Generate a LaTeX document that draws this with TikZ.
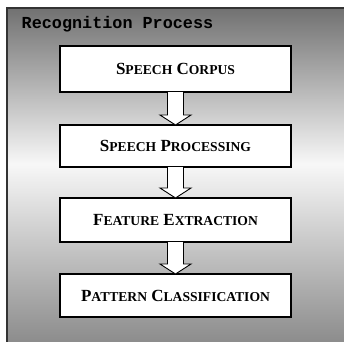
\documentclass[tikz,border=0pt]{standalone}
\usepackage{fontspec}
\setmainfont{Liberation Serif}
\newfontfamily\monob{Liberation Mono}
\usetikzlibrary{calc}

% hand-made small capitals: large initial, smaller remainder
\newcommand\scword[2]{{\fontsize{17}{20}\selectfont #1}{\fontsize{13.6}{16}\selectfont #2}}

\tikzset{
  x=1pt, y=1pt,
  stagebox/.style={draw=black, line width=1.3pt, fill=white,
    minimum width=231pt, minimum height=44pt, inner sep=0pt, outer sep=0pt,
    font=\bfseries\fontsize{17}{20}\selectfont},
  blockarrow/.style={draw=black, line width=0.9pt, fill=white, line join=miter},
}

\begin{document}
\begin{tikzpicture}
  \useasboundingbox (0,0) rectangle (344,341);
  \clip (0,0) rectangle (344,341);

  % panel background: dark at top and bottom, nearly white in between,
  % built from thin horizontal strips
  \foreach \yy in {-6,...,333}{
    \ifnum\yy<176
      \pgfmathsetmacro\g{0.97-(176-\yy)/182*0.43}
    \else
      \pgfmathsetmacro\g{0.97-(\yy-176)/157*0.53}
    \fi
    \definecolor{stripcol}{gray}{\g}
    \fill[stripcol] (7,\yy) rectangle (352,\yy+1.3);
  }
  \draw[line width=2pt, draw=black!80] (7,-6) -- (7,333) -- (352,333);

  \node[anchor=base west, font=\monob\bfseries\fontsize{16.8}{18}\selectfont, inner sep=0pt]
    (title) at (21.5,313) {Recognition Process};

  % processing stages
  \node[stagebox, minimum height=46pt] (corpus)  at (175.5,272)
    {\scword{S}{PEECH} \scword{C}{ORPUS}};
  \node[stagebox, minimum height=42pt] (proc)    at (175.5,195)
    {\scword{S}{PEECH} \scword{P}{ROCESSING}};
  \node[stagebox, minimum height=44pt] (feat)    at (175.5,121)
    {\scword{F}{EATURE} \scword{E}{XTRACTION}};
  \node[stagebox, minimum height=43pt] (pattern) at (175.5,45.5)
    {\scword{P}{ATTERN} \scword{C}{LASSIFICATION}};

  % hollow block arrows between consecutive stages
  \foreach \a/\b in {corpus/proc, proc/feat, feat/pattern}{
    \draw[blockarrow]
      ($(\a.south)+(-8,0)$) -- ($(\b.north)+(-8,10)$) -- ($(\b.north)+(-15.5,10)$)
      -- (\b.north) -- ($(\b.north)+(15.5,10)$) -- ($(\b.north)+(8,10)$)
      -- ($(\a.south)+(8,0)$);
  }
\end{tikzpicture}
\end{document}
